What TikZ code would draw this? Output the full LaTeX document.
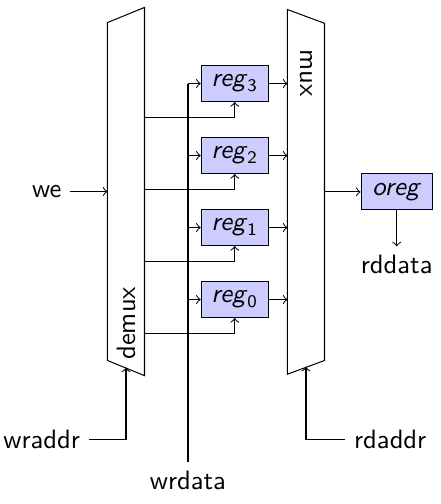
\documentclass[tikz,border=0pt]{standalone}
\usetikzlibrary{positioning}

\newcommand{\regname}[1]{\textit{reg}\ensuremath{_{\mbox{\scriptsize #1}}}}

\begin{document}
\begin{tikzpicture}[font=\sffamily\fontsize{10.5}{12.6}\selectfont]
        \definecolor{regblue}{HTML}{CCCCFF}
        \tikzset{
            regbox/.style={draw, fill=regblue, minimum width=0.93cm, minimum height=0.5cm, inner sep=0pt},
            muxbody/.style={minimum width=0.5cm, inner sep=0pt}
        }
        \useasboundingbox (0,0) rectangle (6.125,-7);

        % demux and mux
        \node[muxbody, minimum height=5.1cm] (demux) at (1.75,-2.66) {};
        \draw ([yshift=-0.21cm]demux.north west) -- (demux.north east) -- (demux.south east) -- ([yshift=0.21cm]demux.south west) -- cycle;
        \node[rotate=90] (demuxlabel) at (1.76,-4.49) {demux};

        \node[muxbody, minimum height=5.05cm] (mux) at (4.25,-2.665) {};
        \draw (mux.north west) -- ([yshift=-0.19cm]mux.north east) -- ([yshift=0.19cm]mux.south east) -- (mux.south west) -- cycle;
        \node[rotate=-90] (muxlabel) at (4.26,-1.01) {mux};

        % registers
        \node[regbox] (reg3) at (3.26,-1.16) {\regname{3}};
        \node[regbox] (reg2) at (3.26,-2.16) {\regname{2}};
        \node[regbox] (reg1) at (3.26,-3.16) {\regname{1}};
        \node[regbox] (reg0) at (3.26,-4.16) {\regname{0}};
        \node[regbox, minimum width=0.99cm] (oreg) at (5.51,-2.665) {\textit{oreg}};

        % labels
        \node (we) at (0.65,-2.66) {we};
        \node (wraddr) at (0.58,-6.10) {wraddr};
        \node (rdaddr) at (5.42,-6.10) {rdaddr};
        \node (wrdata) at (2.61,-6.67) {wrdata};
        \node[below=0.5cm of oreg] (rddata) {rddata};

        \coordinate (wraddrin) at (1.75,-5.105);
        \coordinate (rdaddrin) at (4.25,-5.095);
        \coordinate (wen3) at ([yshift=-0.22cm]reg3.south);
        \coordinate (wen2) at ([yshift=-0.22cm]reg2.south);
        \coordinate (wen1) at ([yshift=-0.22cm]reg1.south);
        \coordinate (wen0) at ([yshift=-0.22cm]reg0.south);
        \coordinate (wrbus) at (2.61,-1.16);

        % write side
        \draw[->] (we) -- (demux.west);
        \draw[->] (wraddr) -| (wraddrin);
        \draw[->] (demux.east |- wen3) -- (wen3) -- (reg3.south);
        \draw[->] (demux.east |- wen2) -- (wen2) -- (reg2.south);
        \draw[->] (demux.east |- wen1) -- (wen1) -- (reg1.south);
        \draw[->] (demux.east |- wen0) -- (wen0) -- (reg0.south);

        \draw[line width=1pt] (wrdata) -- (wrbus);
        \draw[->] (wrbus) -- (reg3.west);
        \draw[->] (wrbus |- reg2.west) -- (reg2.west);
        \draw[->] (wrbus |- reg1.west) -- (reg1.west);
        \draw[->] (wrbus |- reg0.west) -- (reg0.west);

        % read side
        \draw[->] (reg3.east) -- (reg3.east -| mux.west);
        \draw[->] (reg2.east) -- (reg2.east -| mux.west);
        \draw[->] (reg1.east) -- (reg1.east -| mux.west);
        \draw[->] (reg0.east) -- (reg0.east -| mux.west);
        \draw[->] (rdaddr) -| (rdaddrin);
        \draw[->] (mux.east) -- (oreg.west);
        \draw[->] (oreg) -- (rddata);
    \end{tikzpicture}
\end{document}
